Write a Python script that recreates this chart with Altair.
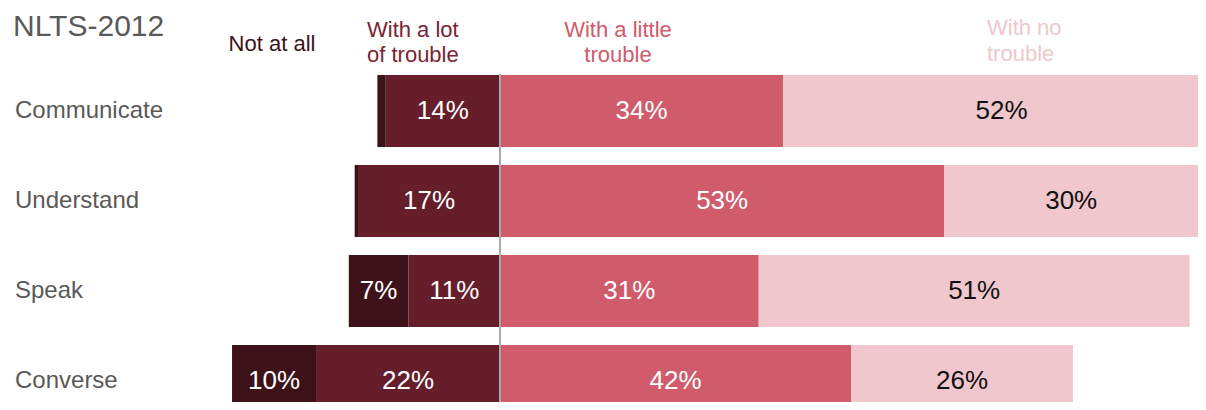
import altair as alt
import pandas as pd

categories = ["Communicate", "Understand", "Speak", "Converse"]
not_at_all = [1.0, 0.4, 7.1, 10.0]
lot_trouble = [13.6, 16.9, 10.9, 21.9]
little_trouble = [33.7, 52.9, 30.8, 41.8]
no_trouble = [52.0, 30.2, 51.3, 26.4]

segments = ["Not at all", "With a lot of trouble", "With a little trouble", "With no trouble"]
seg_colors = ["#3d1219", "#661e2a", "#d05b6b", "#efc7cc"]
header_colors = ["#3d1219", "#7a2433", "#d05b6b", "#efc7cc"]

title_text = "NLTS-2012"
FONT = "Liberation Sans"

rows = []
for i, c in enumerate(categories):
    na, lot, li, no = not_at_all[i], lot_trouble[i], little_trouble[i], no_trouble[i]
    spans = [(-(lot + na), -lot, na), (-lot, 0.0, lot), (0.0, li, li), (li, li + no, no)]
    for s, (a, b, v) in zip(segments, spans):
        rows.append(dict(cat=c, seg=s, x=a, x2=b, mid=(a + b) / 2, v=v,
                         label=f"{round(v)}%" if v >= 5 else ""))
df = pd.DataFrame(rows)

W, H = 1190, 394
xscale = alt.Scale(domain=[-58.571, (W - 492) / 8.4], nice=False, zero=False)
yscale = alt.Scale(domain=categories, range=[67, 409], paddingInner=0.2, paddingOuter=0)

base = alt.Chart(df)

bars = base.mark_bar(clip=True).encode(
    x=alt.X("x:Q", scale=xscale, axis=None),
    x2="x2:Q",
    y=alt.Y("cat:N", scale=yscale, axis=None),
    color=alt.Color("seg:N", scale=alt.Scale(domain=segments, range=seg_colors), legend=None),
)

labels = base.transform_filter(alt.datum.label != "").mark_text(
    font=FONT, fontSize=26, baseline="middle", align="center"
).encode(
    x=alt.X("mid:Q", scale=xscale, axis=None),
    y=alt.Y("cat:N", scale=yscale, axis=None),
    text="label:N",
    color=alt.condition(alt.datum.seg == "With no trouble", alt.value("#111111"), alt.value("white")),
)

cat_labels = alt.Chart(pd.DataFrame({"cat": categories})).mark_text(
    font=FONT, fontSize=24, align="left", baseline="middle", color="#595959"
).encode(
    x=alt.value(7),
    y=alt.Y("cat:N", scale=yscale, axis=None),
    text="cat:N",
)

center = alt.Chart(pd.DataFrame({"x": [0.0]})).mark_rule(color="#ababab", strokeWidth=2).encode(
    x=alt.X("x:Q", scale=xscale, axis=None),
    y=alt.value(66),
    y2=alt.value(H),
)

title = alt.Chart(pd.DataFrame({"t": [title_text]})).mark_text(
    font=FONT, fontSize=30, align="left", baseline="alphabetic", color="#595959"
).encode(x=alt.value(5), y=alt.value(28), text="t:N")

hdr_center = pd.DataFrame({
    "t": ["Not at all", "With a little", "trouble"],
    "px": [264, 610, 610],
    "py": [36, 22, 47],
    "col": [header_colors[0], header_colors[2], header_colors[2]],
})
hdr_left = pd.DataFrame({
    "t": ["With a lot", "of trouble", "With no", "trouble"],
    "px": [359, 359, 979, 979],
    "py": [22, 47, 20, 46],
    "col": [header_colors[1], header_colors[1], header_colors[3], header_colors[3]],
})

h1 = alt.Chart(hdr_center).mark_text(font=FONT, fontSize=22, align="center", baseline="middle").encode(
    x=alt.X("px:Q", scale=None), y=alt.Y("py:Q", scale=None), text="t:N",
    color=alt.Color("col:N", scale=None),
)
h2 = alt.Chart(hdr_left).mark_text(font=FONT, fontSize=22, align="left", baseline="middle").encode(
    x=alt.X("px:Q", scale=None), y=alt.Y("py:Q", scale=None), text="t:N",
    color=alt.Color("col:N", scale=None),
)

chart = alt.layer(bars, center, labels, cat_labels, title, h1, h2).properties(
    width=W, height=H, padding=0, autosize=alt.AutoSizeParams(type="none"),
).configure_view(stroke=None)

chart.save("out.html", embed_options={"renderer": "svg", "actions": False})
